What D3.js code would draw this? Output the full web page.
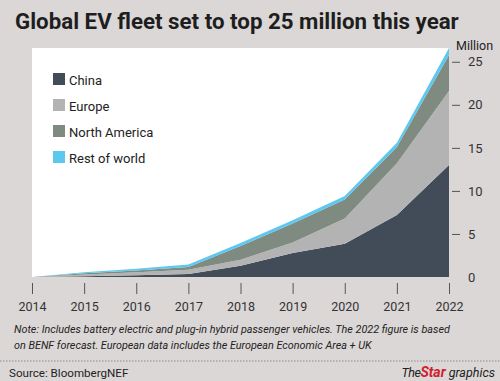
<!DOCTYPE html>
<html><head><meta charset="utf-8">
<script src="https://cdn.jsdelivr.net/npm/d3@7"></script>
<style>
html,body{margin:0;padding:0;background:#dbd7d7;}
svg{display:block;font-family:Roboto,"Liberation Sans",sans-serif;}
</style></head>
<body><svg id="c" width="500" height="381"></svg>
<script>
const years = [2014, 2015, 2016, 2017, 2018, 2019, 2020, 2021, 2022];
const china = [0, 0.1, 0.2, 0.35, 1.3, 2.8, 3.85, 7.2, 13.0];
const europe = [0, 0.2, 0.35, 0.5, 0.7, 1.2, 2.95, 6.0, 8.6];
const northAmerica = [0, 0.15, 0.2, 0.3, 1.6, 2.2, 2.2, 1.9, 4.2];
const restOfWorld = [0, 0.1, 0.2, 0.3, 0.35, 0.4, 0.4, 0.5, 0.8];
const seriesNames = ["China", "Europe", "North America", "Rest of world"];
const seriesColors = ["#424c59", "#b3b3b3", "#7f8a80", "#5cc8ef"];
const yTicks = [0, 5, 10, 15, 20, 25];

const svg = d3.select("#c");
const W = 500, H = 381;
svg.append("rect").attr("width", W).attr("height", H).attr("fill", "#dbd7d7");

const x = d3.scaleLinear().domain([2014, 2022]).range([32, 449]);
const y = d3.scaleLinear().domain([0, 26.6]).range([277, 48]);

// title
svg.append("text").attr("x", 15).attr("y", 29)
  .attr("font-size", 22.3).attr("font-weight", 700).attr("fill", "#1e1e1e")
  .text("Global EV fleet set to top 25 million this year");

// plot background
svg.append("rect").attr("x", x(2014)).attr("y", y(26.6))
  .attr("width", x(2022) - x(2014)).attr("height", y(0) - y(26.6)).attr("fill", "#ffffff");

const table = years.map((yr, i) => ({
  year: yr, "China": china[i], "Europe": europe[i],
  "North America": northAmerica[i], "Rest of world": restOfWorld[i]
}));
const stack = d3.stack().keys(seriesNames)(table);
const area = d3.area().x(d => x(d.data.year)).y0(d => y(d[0])).y1(d => y(d[1]));
svg.append("g").selectAll("path").data(stack).join("path")
  .attr("d", area).attr("fill", (d, i) => seriesColors[i]);

// x axis
const xAxis = d3.axisBottom(x).tickValues(years).tickFormat(d3.format("d"))
  .tickSize(11).tickPadding(8);
const gx = svg.append("g").attr("transform", "translate(0,283)").call(xAxis);
gx.select(".domain").remove();
gx.selectAll(".tick line").attr("stroke", "#555").attr("stroke-width", 1);
gx.selectAll(".tick text").attr("font-size", 12.5).attr("fill", "#333")
  .attr("font-family", "Roboto, sans-serif");

// y axis (right)
const yAxis = d3.axisRight(y).tickValues(yTicks).tickSize(8).tickPadding(8);
const gy = svg.append("g").attr("transform", "translate(452,0)").call(yAxis);
gy.select(".domain").remove();
gy.selectAll(".tick line").attr("stroke", "#555");
gy.selectAll(".tick").filter(d => d === 0).select("line").remove();
gy.selectAll(".tick text").attr("font-size", 13).attr("fill", "#333")
  .attr("font-family", "Roboto, sans-serif");
gy.selectAll(".tick").filter(d => d === 0).select("text").attr("x", 16);
svg.append("text").attr("x", 456).attr("y", 50).attr("font-size", 12.5)
  .attr("fill", "#222").text("Million");

// legend
const lg = svg.append("g");
seriesNames.forEach((n, i) => {
  const ly = 73 + i * 26;
  lg.append("rect").attr("x", 53).attr("y", ly).attr("width", 12).attr("height", 12)
    .attr("fill", seriesColors[i]);
  lg.append("text").attr("x", 69).attr("y", ly + 11.5).attr("font-size", 13)
    .attr("fill", "#222").text(n);
});

// note
const note = svg.append("text").attr("font-size", 10.8).attr("font-style", "italic").attr("fill", "#222");
note.append("tspan").attr("x", 14).attr("y", 333)
  .text("Note: Includes battery electric and plug-in hybrid passenger vehicles. The 2022 figure is based");
note.append("tspan").attr("x", 14).attr("y", 349)
  .text("on BENF forecast. European data includes the European Economic Area + UK");

svg.append("line").attr("x1", 0).attr("x2", W).attr("y1", 361).attr("y2", 361)
  .attr("stroke", "#888").attr("stroke-dasharray", "1.5,1.5");

svg.append("text").attr("x", 9).attr("y", 377).attr("font-size", 11.6).attr("fill", "#222")
  .text("Source: BloombergNEF");

const brand = svg.append("text").attr("x", 495).attr("y", 377).attr("text-anchor", "end")
  .attr("font-size", 12.5).attr("font-style", "italic").attr("fill", "#222");
brand.append("tspan").attr("letter-spacing", -0.5).text("The");
brand.append("tspan").attr("fill", "#d0202a").attr("font-weight", 700).attr("font-size", 14).text("Star");
brand.append("tspan").text(" graphics");
</script></body></html>
